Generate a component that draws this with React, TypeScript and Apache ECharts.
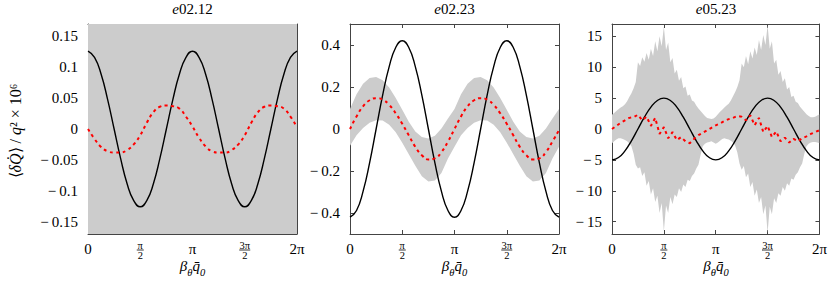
import React, { useEffect, useRef } from 'react';
import * as echarts from 'echarts';

const PI = Math.PI;

// ---------- tick definitions ----------
const X_TICKS = [0, PI / 2, PI, (3 * PI) / 2, 2 * PI];
const Y_TICKS_1 = [-0.15, -0.1, -0.05, 0, 0.05, 0.1, 0.15];
const Y_TICKS_2 = [-0.4, -0.2, 0, 0.2, 0.4];
const Y_TICKS_3 = [-15, -10, -5, 0, 5, 10, 15];
const Y_RANGE_1 = [-0.17, 0.17];
const Y_RANGE_2 = [-0.5, 0.5];
const Y_RANGE_3 = [-17, 17];
const TITLES = ['02.12', '02.23', '05.23'];

// ---------- panel 1 (e02.12), samples at steps of pi/16 over [0, 2pi] ----------
const black1 = [0.126, 0.116, 0.089, 0.048, 0, -0.048, -0.089, -0.116, -0.126, -0.116, -0.089, -0.048, 0, 0.048, 0.089, 0.116, 0.126,
  0.116, 0.089, 0.048, 0, -0.048, -0.089, -0.116, -0.126, -0.116, -0.089, -0.048, 0, 0.048, 0.089, 0.116, 0.126];
const red1 = [0, -0.016, -0.029, -0.036, -0.038, -0.038, -0.034, -0.025, -0.01, 0.01, 0.027, 0.036, 0.038, 0.037, 0.033, 0.02, 0.004,
  -0.014, -0.028, -0.036, -0.038, -0.038, -0.034, -0.025, -0.01, 0.01, 0.027, 0.036, 0.038, 0.037, 0.033, 0.02, 0.003];
// the band of panel 1 is wider than the plotted range
const bandLow1 = [-0.3, -0.3];
const bandHigh1 = [0.3, 0.3];

// ---------- panel 2 (e02.23), samples at steps of pi/16 ----------
const black2 = [-0.42, -0.388, -0.297, -0.161, 0, 0.161, 0.297, 0.388, 0.42, 0.388, 0.297, 0.161, 0, -0.161, -0.297, -0.388, -0.42,
  -0.388, -0.297, -0.161, 0, 0.161, 0.297, 0.388, 0.42, 0.388, 0.297, 0.161, 0, -0.161, -0.297, -0.388, -0.42];
const red2 = [0, 0.06, 0.108, 0.137, 0.147, 0.14, 0.115, 0.075, 0.025, -0.03, -0.085, -0.125, -0.145, -0.14, -0.11, -0.06, 0,
  0.06, 0.108, 0.137, 0.147, 0.14, 0.115, 0.075, 0.025, -0.03, -0.085, -0.125, -0.145, -0.14, -0.11, -0.06, -0.005];
const bandHigh2 = [0.095, 0.165, 0.215, 0.243, 0.248, 0.232, 0.198, 0.148, 0.092, 0.035, -0.012, -0.038, -0.045, -0.032, 0.002, 0.05, 0.095,
  0.165, 0.215, 0.243, 0.248, 0.232, 0.198, 0.148, 0.092, 0.035, -0.012, -0.038, -0.045, -0.032, 0.002, 0.05, 0.095];
const bandLow2 = [-0.08, -0.03, 0.005, 0.03, 0.042, 0.04, 0.02, -0.015, -0.065, -0.12, -0.175, -0.225, -0.25, -0.245, -0.21, -0.14, -0.085,
  -0.03, 0.005, 0.03, 0.042, 0.04, 0.02, -0.015, -0.065, -0.12, -0.175, -0.225, -0.25, -0.245, -0.21, -0.14, -0.085];

// ---------- panel 3 (e05.23) ----------
// black: steps of pi/16
const black3 = [-5, -4.62, -3.54, -1.91, 0, 1.91, 3.54, 4.62, 5, 4.62, 3.54, 1.91, 0, -1.91, -3.54, -4.62, -5,
  -4.62, -3.54, -1.91, 0, 1.91, 3.54, 4.62, 5, 4.62, 3.54, 1.91, 0, -1.91, -3.54, -4.62, -5];
// red: steps of pi/24
const red3 = [0, 0.5, 1.0, 1.4, 1.8, 1.9, 2.3, 1.4, 2.0, 0.5, 1.8, -0.8, 0.3, -1.5, -0.5, -1.8, -1.3, -2.0, -2.3, -1.6, -1.0, -0.6, -0.2, 0.2,
  0.6, 0.9, 1.3, 1.6, 1.8, 2.1, 2.0, 1.4, 2.2, 0.6, 1.8, -0.5, 0.5, -1.3, -0.4, -2.0, -1.4, -2.2, -1.6, -2.0, -1.5, -1.2, -0.8, -0.5, -0.2];
// band envelopes: steps of pi/48
const bandHigh3 = [2.3, 2.6, 2.9, 3.2, 3.5, 3.7, 4.0, 4.5, 5.2, 5.8, 6.6, 7.6, 10.8, 10.2, 11.6, 10.9, 12.3, 11.2, 13.0, 11.8, 14.2, 12.6, 15.0, 13.4,
  16.6, 12.8, 14.0, 10.8, 11.5, 9.0, 9.6, 7.8, 8.4, 6.6, 6.9, 5.4, 5.6, 4.6, 4.4, 3.8, 3.3, 2.9, 2.5, 2.1, 1.8, 1.7, 1.6, 1.7,
  2.0, 2.4, 2.8, 3.1, 3.5, 3.8, 4.1, 4.6, 5.3, 6.0, 6.8, 7.9, 10.6, 10.0, 11.8, 10.5, 12.6, 11.4, 13.2, 12.0, 14.4, 12.8, 15.2, 13.6,
  16.8, 13.0, 14.2, 10.6, 11.2, 8.8, 9.4, 7.6, 8.2, 6.4, 6.8, 5.2, 5.4, 4.4, 4.2, 3.6, 3.2, 2.8, 2.4, 2.1, 1.9, 1.9, 2.0, 2.2, 2.4];
const bandLow3 = [-2.3, -2.0, -1.7, -1.5, -1.5, -1.6, -1.8, -2.0, -2.3, -2.8, -4.0, -5.8, -6.4, -6.2, -7.6, -7.0, -9.2, -8.4, -10.6, -9.6, -11.8, -10.8, -13.6, -12.0,
  -16.6, -12.4, -13.6, -11.0, -12.2, -10.6, -11.0, -9.6, -10.2, -9.0, -9.4, -8.2, -8.4, -7.6, -7.2, -6.4, -5.8, -4.2, -2.8, -2.4, -2.2, -2.1, -2.0, -2.2,
  -2.4, -2.2, -1.9, -1.6, -1.5, -1.6, -1.7, -1.9, -2.2, -2.7, -3.8, -5.6, -6.6, -6.0, -7.8, -7.2, -9.4, -8.6, -10.8, -9.8, -12.0, -11.0, -13.8, -12.4,
  -16.8, -12.6, -13.8, -11.2, -12.0, -10.4, -10.8, -9.4, -10.0, -8.8, -9.2, -8.0, -8.2, -7.4, -7.0, -6.2, -5.6, -4.0, -2.8, -2.4, -2.2, -2.1, -2.1, -2.2, -2.3];

const FONT = 'Liberation Serif';
const AXIS_COLOR = '#444';
const GRAY = '#cccccc';

const GRIDS = [
  { left: 88, top: 24, width: 209, height: 210 },
  { left: 350, top: 24, width: 209, height: 210 },
  { left: 612, top: 24, width: 208, height: 210 },
];

// place samples evenly over [0, 2pi]
const pairs = (arr: number[]) => arr.map((v, i) => [(i * 2 * PI) / (arr.length - 1), v]);
const triples = (low: number[], high: number[]) =>
  low.map((v, i) => [(i * 2 * PI) / (low.length - 1), v, high[i]]);

const xLabel = (v: number) => {
  const k = Math.round(v / (PI / 2));
  return ['{m|0}', '{n|π}\n{b| }\n{d|2}', '{m|π}', '{n|3π}\n{b3| }\n{d|2}', '{m|2π}'][k] ?? '';
};
const yLabel = (v: number) => String(v).replace('-', '−\u2009');

// band polygon: upper envelope forward, lower envelope backward, clipped to the grid
const renderBand = (params: any, api: any) => {
  if (params.dataIndexInside !== 0) return null;
  const n = params.dataInsideLength;
  const top: number[][] = [];
  const bot: number[][] = [];
  for (let j = 0; j < n; j++) {
    const x = api.value(0, j);
    bot.push(api.coord([x, api.value(1, j)]));
    top.push(api.coord([x, api.value(2, j)]));
  }
  const cs = params.coordSys;
  return {
    type: 'polygon',
    shape: { points: top.concat(bot.reverse()) },
    style: { fill: GRAY, stroke: null },
    clipPath: { type: 'rect', shape: { x: cs.x, y: cs.y, width: cs.width, height: cs.height } },
  };
};

export default function App() {
  const ref = useRef<HTMLDivElement>(null);
  useEffect(() => {
    document.body.style.margin = '0';
    if (!ref.current) return;
    const chart = echarts.init(ref.current, undefined, { renderer: 'svg' });

    const panels = [
      { black: black1, red: red1, low: bandLow1, high: bandHigh1, ticks: Y_TICKS_1, range: Y_RANGE_1, smoothRed: true },
      { black: black2, red: red2, low: bandLow2, high: bandHigh2, ticks: Y_TICKS_2, range: Y_RANGE_2, smoothRed: true },
      { black: black3, red: red3, low: bandLow3, high: bandHigh3, ticks: Y_TICKS_3, range: Y_RANGE_3, smoothRed: false },
    ];

    const xAxis: any[] = [];
    const yAxis: any[] = [];
    const series: any[] = [];
    const graphic: any[] = [];

    panels.forEach((p, i) => {
      const xBase = {
        type: 'value', gridIndex: i, min: 0, max: 2 * PI,
        splitLine: { show: false },
        axisLine: { show: true, onZero: false, lineStyle: { color: AXIS_COLOR, width: 1 } },
        axisTick: { show: true, inside: true, length: 4, customValues: X_TICKS, lineStyle: { color: AXIS_COLOR } },
      };
      xAxis.push({
        ...xBase, position: 'bottom',
        axisLabel: {
          show: true, customValues: X_TICKS, margin: 7, formatter: xLabel,
          color: '#000', fontFamily: FONT, fontSize: 15,
          rich: {
            m: { fontFamily: FONT, fontSize: 15, lineHeight: 16, color: '#000' },
            n: { fontFamily: FONT, fontSize: 10.5, lineHeight: 8, color: '#000' },
            d: { fontFamily: FONT, fontSize: 10.5, lineHeight: 8, color: '#000' },
            b: { width: 7, height: 0.8, lineHeight: 2, fontSize: 1, backgroundColor: '#000' },
            b3: { width: 11, height: 0.8, lineHeight: 2, fontSize: 1, backgroundColor: '#000' },
          },
        },
      });
      xAxis.push({ ...xBase, position: 'top', axisLabel: { show: false } });

      const yBase = {
        type: 'value', gridIndex: i, min: p.range[0], max: p.range[1],
        splitLine: { show: false },
        axisLine: { show: true, onZero: false, lineStyle: { color: AXIS_COLOR, width: 1 } },
        axisTick: { show: true, inside: true, length: 4, customValues: p.ticks, lineStyle: { color: AXIS_COLOR } },
      };
      yAxis.push({
        ...yBase, position: 'left',
        axisLabel: { show: true, customValues: p.ticks, margin: 10, formatter: yLabel, color: '#000', fontFamily: FONT, fontSize: 15 },
      });
      yAxis.push({ ...yBase, position: 'right', axisLabel: { show: false } });

      const common = { xAxisIndex: 2 * i, yAxisIndex: 2 * i, silent: true };
      series.push({
        ...common, type: 'custom', name: `band-${i}`, coordinateSystem: 'cartesian2d',
        data: triples(p.low, p.high), encode: { x: 0, y: [1, 2] }, renderItem: renderBand, z: 1,
      });
      series.push({
        ...common, type: 'line', name: `black-${i}`, data: pairs(p.black), smooth: true, symbol: 'none', z: 3,
        lineStyle: { color: '#000', width: 1.4 },
      });
      series.push({
        ...common, type: 'line', name: `red-${i}`, data: pairs(p.red), smooth: p.smoothRed, symbol: 'none', z: 4,
        lineStyle: { color: '#ff0000', width: 2, type: [3, 3.5] },
      });

      const cx = GRIDS[i].left + GRIDS[i].width / 2;
      graphic.push({
        type: 'text', x: cx, y: 9,
        style: {
          text: `{i|e}{r|${TITLES[i]}}`, align: 'center', verticalAlign: 'middle',
          rich: {
            i: { fontFamily: FONT, fontSize: 15, fontStyle: 'italic', fill: '#000' },
            r: { fontFamily: FONT, fontSize: 15, fill: '#000' },
          },
        },
      });
      graphic.push({
        type: 'text', x: cx, y: 268,
        style: {
          text: '{m|β}{s|θ}{m|q\u0304}{s|0}', align: 'center', verticalAlign: 'middle',
          rich: {
            m: { fontFamily: FONT, fontSize: 15, fontStyle: 'italic', fill: '#000', verticalAlign: 'bottom', padding: [0, 0, 4, 0] },
            s: { fontFamily: FONT, fontSize: 10.5, fontStyle: 'italic', fill: '#000', verticalAlign: 'bottom' },
          },
        },
      });
    });

    graphic.push({
      type: 'text', x: 15, y: 131, rotation: PI / 2,
      style: {
        text: '{r|⟨}{i|δQ\u0307}{r|⟩ / }{i|q}{r|² × 10⁶}', align: 'center', verticalAlign: 'middle',
        rich: {
          i: { fontFamily: FONT, fontSize: 16, fontStyle: 'italic', fill: '#000' },
          r: { fontFamily: FONT, fontSize: 16, fill: '#000' },
        },
      },
    });

    chart.setOption({
      animation: false,
      backgroundColor: '#fff',
      grid: GRIDS,
      xAxis,
      yAxis,
      series,
      graphic,
    });
    return () => chart.dispose();
  }, []);
  return <div ref={ref} style={{ width: 830, height: 284 }} />;
}
